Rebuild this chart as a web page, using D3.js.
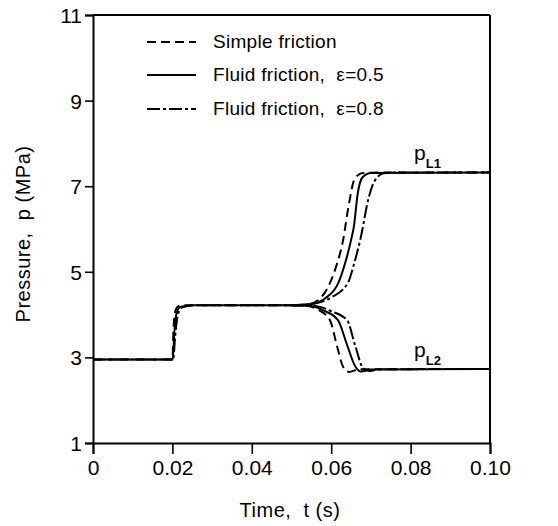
<!DOCTYPE html>
<html>
<head>
<meta charset="utf-8">
<script src="https://cdn.jsdelivr.net/npm/d3@7"></script>
<style>
  body { margin: 0; background: #fff; }
  svg text { font-family: "Liberation Sans", Arial, sans-serif; fill: #000; white-space: pre; }
</style>
</head>
<body>
<div id="chart"></div>
<script>
// ticks
const xTicks = [0, 0.02, 0.04, 0.06, 0.08, 0.10];
const xTickLabels = ["0", "0.02", "0.04", "0.06", "0.08", "0.10"];
const yTicks = [1, 3, 5, 7, 9, 11];

// series: [t (s), p (MPa)]
const simpleL1 = [[0, 2.95], [0.0200, 2.95], [0.0203, 3.7], [0.0208, 4.1], [0.0216, 4.2], [0.024, 4.22], [0.050, 4.22],
  [0.054, 4.24], [0.057, 4.36], [0.0597, 4.74], [0.0615, 5.2], [0.063, 5.74], [0.0642, 6.44], [0.066, 7.19], [0.068, 7.31], [0.075, 7.32], [0.10, 7.32]];
const fluid05L1 = [[0, 2.95], [0.0201, 2.95], [0.0205, 3.6], [0.0211, 4.05], [0.022, 4.18], [0.025, 4.22], [0.050, 4.22],
  [0.055, 4.25], [0.0585, 4.38], [0.0618, 4.74], [0.0635, 5.2], [0.065, 5.74], [0.0657, 6.05], [0.0667, 6.84], [0.0679, 7.21], [0.070, 7.31], [0.10, 7.32]];
const fluid08L1 = [[0, 2.95], [0.0202, 2.95], [0.0207, 3.5], [0.0214, 4.0], [0.0225, 4.17], [0.026, 4.22], [0.050, 4.22],
  [0.056, 4.26], [0.060, 4.4], [0.0642, 4.74], [0.0658, 5.2], [0.0673, 5.74], [0.0695, 6.75], [0.0708, 7.1], [0.0732, 7.3], [0.076, 7.32], [0.10, 7.32]];
const simpleL2 = [[0.050, 4.22], [0.054, 4.2], [0.057, 4.1], [0.0597, 3.87], [0.0614, 3.29], [0.063, 2.78], [0.0645, 2.66], [0.067, 2.72], [0.10, 2.73]];
const fluid05L2 = [[0.050, 4.22], [0.055, 4.2], [0.058, 4.1], [0.0617, 3.87], [0.064, 3.29], [0.066, 2.8], [0.0675, 2.67], [0.070, 2.72], [0.10, 2.73]];
const fluid08L2 = [[0.050, 4.22], [0.056, 4.2], [0.060, 4.08], [0.064, 3.87], [0.066, 3.29], [0.068, 2.75], [0.0695, 2.68], [0.072, 2.72], [0.10, 2.73]];

const legendLabels = ["Simple friction", "Fluid friction,  \u03b5=0.5", "Fluid friction,  \u03b5=0.8"];
const dashes = ["9,5", null, "13,3,3,3"];

const width = 558, height = 526;
const plotLeft = 93, plotRight = 490, plotTop = 15, plotBottom = 443;

const svg = d3.select("#chart").append("svg")
  .attr("width", width)
  .attr("height", height);

const x = d3.scaleLinear().domain([0, 0.1]).range([plotLeft, plotRight]);
const y = d3.scaleLinear().domain([1, 11]).range([plotBottom, plotTop]);

// frame top and right
svg.append("line").attr("x1", plotLeft).attr("x2", plotRight).attr("y1", plotTop).attr("y2", plotTop)
  .attr("stroke", "#000").attr("stroke-width", 2);
svg.append("line").attr("x1", plotRight).attr("x2", plotRight).attr("y1", plotTop).attr("y2", plotBottom)
  .attr("stroke", "#000").attr("stroke-width", 2);

const xAxis = svg.append("g")
  .attr("transform", `translate(0,${plotBottom})`)
  .call(d3.axisBottom(x).tickValues(xTicks).tickFormat((d, i) => xTickLabels[i]).tickSize(11).tickPadding(6));
const yAxis = svg.append("g")
  .attr("transform", `translate(${plotLeft},0)`)
  .call(d3.axisLeft(y).tickValues(yTicks).tickFormat(d3.format("d")).tickSize(8).tickPadding(3));

[xAxis, yAxis].forEach(g => {
  g.select(".domain").attr("stroke-width", 2);
  g.selectAll(".tick line").attr("stroke-width", 1.6);
  g.selectAll(".tick text").attr("font-size", 21).attr("font-family", "Liberation Sans, Arial, sans-serif");
});
yAxis.selectAll(".tick text").attr("dy", "0.36em");

// axis titles
svg.append("text")
  .attr("x", 290).attr("y", 517)
  .attr("text-anchor", "middle")
  .attr("font-size", 20)
  .style("letter-spacing", "0.5px")
  .text("Time,  t (s)");
svg.append("text")
  .attr("transform", `translate(30,${(plotTop + plotBottom) / 2 + 5}) rotate(-90)`)
  .attr("text-anchor", "middle")
  .attr("font-size", 20)
  .style("letter-spacing", "0.5px")
  .text("Pressure,  p (MPa)");

// curves
const line = d3.line()
  .x(d => x(d[0]))
  .y(d => y(d[1]))
  .curve(d3.curveMonotoneX);

const series = [
  [simpleL1, 0], [fluid05L1, 1], [fluid08L1, 2],
  [simpleL2, 0], [fluid05L2, 1], [fluid08L2, 2]
];
svg.append("g").selectAll("path")
  .data(series)
  .join("path")
  .attr("d", d => line(d[0]))
  .attr("fill", "none")
  .attr("stroke", "#000")
  .attr("stroke-width", 2)
  .attr("stroke-dasharray", d => dashes[d[1]]);

// legend
const legendY = [42, 75, 109];
const legend = svg.append("g");
legendLabels.forEach((lab, i) => {
  legend.append("line")
    .attr("x1", 147).attr("x2", 196)
    .attr("y1", legendY[i]).attr("y2", legendY[i])
    .attr("stroke", "#000").attr("stroke-width", 2)
    .attr("stroke-dasharray", dashes[i]);
  legend.append("text")
    .attr("x", 213).attr("y", legendY[i] + 6)
    .attr("font-size", 19)
    .style("letter-spacing", "0.3px")
    .text(lab);
});

// curve labels
const addLabel = (px, py, sub) => {
  const t = svg.append("text").attr("x", px).attr("y", py).attr("font-size", 21);
  t.append("tspan").text("p");
  t.append("tspan").attr("dy", 8).attr("font-size", 13).attr("font-weight", "bold").text(sub);
};
addLabel(414, 160, "L1");
addLabel(414, 357, "L2");
</script>
</body>
</html>
